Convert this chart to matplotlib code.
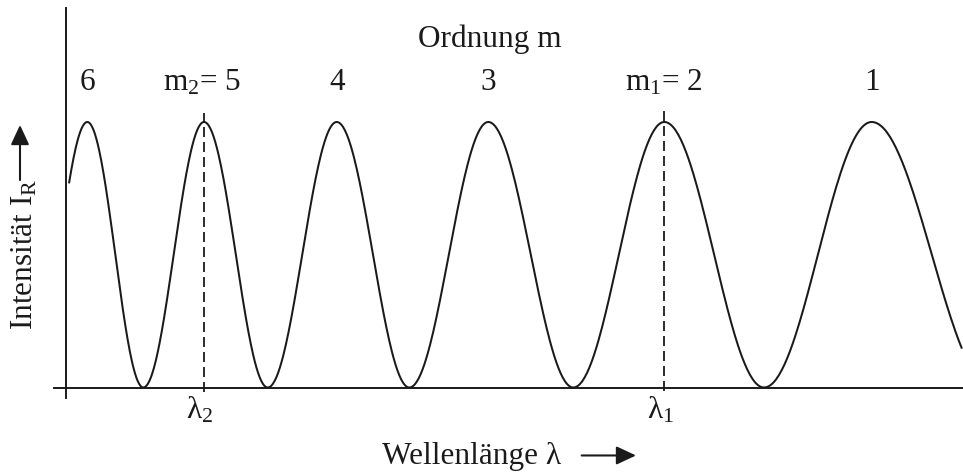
import numpy as np
import matplotlib
matplotlib.use("Agg")
import matplotlib.pyplot as plt
from matplotlib.patches import FancyArrowPatch

plt.rcParams['font.family'] = ['Liberation Serif', 'DejaVu Serif']
plt.rcParams['mathtext.fontset'] = 'custom'
plt.rcParams['mathtext.rm'] = 'Liberation Serif'
plt.rcParams['mathtext.it'] = 'Liberation Serif:italic'
plt.rcParams['lines.scale_dashes'] = False

# wavelength positions (arbitrary units) of the intensity maxima, order m = 6 .. 1
peak_lam = [21.8, 138.5, 271.2, 422.8, 598.8, 806.2]
peak_order = [6, 5, 4, 3, 2, 1]
# positions of the zeros between (and just outside) the maxima
min_lam = [-35.5, 77.8, 202.2, 343.8, 507.8, 698.5, 926.5]
lam_start, lam_end = 3.5, 897.5

# the two marked orders
m2_lam, m1_lam = peak_lam[1], peak_lam[4]

ink = '#1a1a1a'
fs = 22.5

fig = plt.figure(figsize=(9.63, 4.73), dpi=100)
ax = fig.add_axes([65.5 / 963, 85.5 / 473, 897.5 / 963, 379.5 / 473])
ax.set_xlim(0, 897.5)
ax.set_ylim(0, 379.5 / 265.5)
ax.axis('off')

# intensity curve: cos^2 shape between successive zero and maximum
ext = sorted([(v, 0.0) for v in min_lam] + [(v, 1.0) for v in peak_lam])
xs, ys = [], []
for (xa, ya), (xb, yb) in zip(ext[:-1], ext[1:]):
    t = np.linspace(0, 1, 80)
    xs.append(xa + (xb - xa) * t)
    ys.append(ya + (yb - ya) * (1 - np.cos(np.pi * t)) / 2)
xs = np.concatenate(xs)
ys = np.concatenate(ys)
keep = (xs >= lam_start) & (xs <= lam_end)
ax.plot(xs[keep], ys[keep], color=ink, lw=1.45, clip_on=False)

# axes lines
ax.plot([0, 0], [-10.5 / 265.5, 379.5 / 265.5], color=ink, lw=1.4, clip_on=False)
ax.plot([-11.5, 897.5], [0, 0], color=ink, lw=1.4, clip_on=False)

# dashed markers at the two orders
ax.plot([m2_lam, m2_lam], [-0.017, 1.035], color=ink, lw=1.3,
        ls=(0, (7.2, 3.6)), clip_on=False)
ax.plot([m1_lam, m1_lam], [-0.012, 1.05], color=ink, lw=1.3,
        ls=(0, (7.2, 3.6)), clip_on=False)

# order labels
for lam, m in zip(peak_lam, peak_order):
    if lam == m2_lam:
        s = r'$\mathrm{m}_2$= %d' % m
        lx = lam - 2
    elif lam == m1_lam:
        s = r'$\mathrm{m}_1$= %d' % m
        lx = lam - 1
    else:
        s = str(m)
        lx = lam
    ax.text(lx, 1.1205, s, ha='center', va='baseline', fontsize=fs, color=ink)

ax.text(424.5, 1.284, 'Ordnung m', ha='center', va='baseline', fontsize=fs, color=ink)

ax.text(m2_lam - 4, -0.115, r'$\mathrm{λ}_2$', ha='center', va='baseline',
        fontsize=fs, color=ink)
ax.text(m1_lam - 4, -0.115, r'$\mathrm{λ}_1$', ha='center', va='baseline',
        fontsize=fs, color=ink)

# x label with arrow
ax.text(316.2, -0.29, 'Wellenlänge λ', ha='left', va='baseline',
        fontsize=fs, color=ink)
ax.add_patch(FancyArrowPatch((516.2, -0.256), (570.5, -0.256),
                             arrowstyle='-|>,head_length=12,head_width=5.6',
                             mutation_scale=1, shrinkA=0, shrinkB=0,
                             color=ink, lw=1.5, clip_on=False))

# y label with arrow
ax.text(-32.5, 0.2166, r'Intensität $\mathrm{I}_\mathrm{R}$', rotation=90,
        rotation_mode='anchor', ha='left', va='baseline', fontsize=fs, color=ink)
ax.add_patch(FancyArrowPatch((-45.5, 0.7815), (-45.5, 0.9887),
                             arrowstyle='-|>,head_length=12,head_width=5.6',
                             mutation_scale=1, shrinkA=0, shrinkB=0,
                             color=ink, lw=1.5, clip_on=False))

fig.savefig('out.png', dpi=100)
